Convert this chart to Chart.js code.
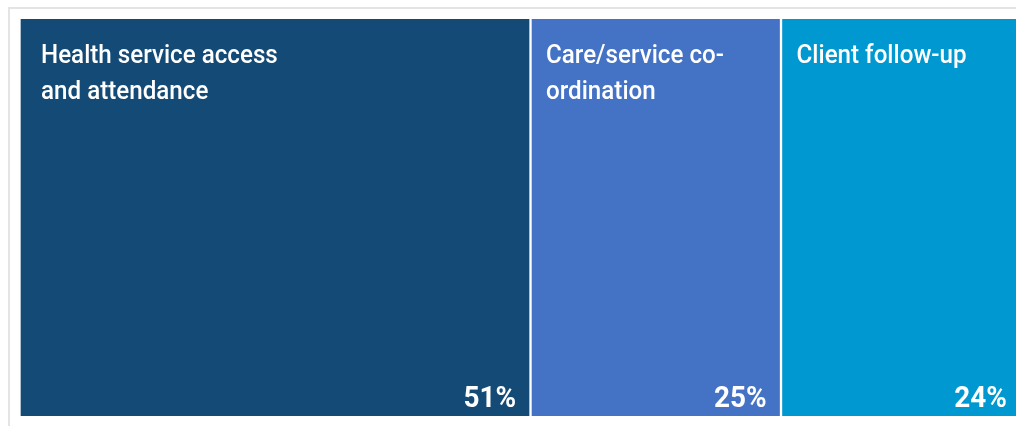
<!DOCTYPE html>
<html>
<head>
<meta charset="utf-8">
<script src="https://cdn.jsdelivr.net/npm/chart.js@4.4.0/dist/chart.umd.min.js"></script>
<style>
  html, body { margin: 0; padding: 0; background: #fff; overflow: hidden; }
  #wrap { position: relative; width: 1016px; height: 426px; overflow: hidden; }
  #frame { position: absolute; left: 8px; top: 7px; width: 1100px; height: 500px;
           border-left: 2px solid #e4e4e4; border-top: 2px solid #e4e4e4; }
  #chart { position: absolute; left: 0; top: 0; }
</style>
</head>
<body>
<div id="wrap">
  <div id="frame"></div>
  <canvas id="chart" width="1024" height="426"></canvas>
</div>
<script>
var categories = [
    ['Health service access', 'and attendance'],
    ['Care/service co-', 'ordination'],
    ['Client follow-up']
];
var values = [51, 25, 24];
var colors = ['#134A76', '#4472C4', '#0098D0'];

var FONT = 'Roboto, "Liberation Sans", sans-serif';

function drawText(ctx, text, x, y, font, align, sx) {
    ctx.save();
    ctx.font = font;
    ctx.textAlign = align;
    ctx.textBaseline = 'alphabetic';
    ctx.translate(x, y);
    ctx.scale(sx, 1); // squeeze to look like a condensed face
    ctx.fillText(text, 0, 0);
    ctx.restore();
}

var tileLabels = {
    id: 'tileLabels',
    afterDatasetsDraw: function(chart) {
        var ctx = chart.ctx;
        ctx.fillStyle = '#ffffff';
        chart.data.datasets.forEach(function(ds, i) {
            var el = chart.getDatasetMeta(i).data[0];
            var p = el.getProps(['x', 'y', 'base', 'height'], true);
            var left = Math.min(p.base, p.x) + 1.5;
            var right = Math.max(p.base, p.x) - 1.5;
            var top = p.y - p.height / 2;
            var bottom = p.y + p.height / 2;
            var pad = i === 0 ? 20 : 14;
            categories[i].forEach(function(line, k) {
                drawText(ctx, line, left + pad, top + 44 + k * 36, '500 26px ' + FONT, 'left', 0.93);
            });
            drawText(ctx, values[i] + '%', right - 13, bottom - 9, 'bold 30px ' + FONT, 'right', 0.93);
        });
    }
};

var config = {
    type: 'bar',
    data: {
        labels: ['Share'],
        datasets: categories.map(function(c, i) {
            return {
                label: c.join(' '),
                data: [values[i]],
                backgroundColor: colors[i],
                borderColor: '#ffffff',
                borderWidth: { left: 1.5, right: 1.5, top: 0, bottom: 0 },
                borderSkipped: false,
                barPercentage: 1,
                categoryPercentage: 1
            };
        })
    },
    options: {
        indexAxis: 'y',
        responsive: false,
        animation: false,
        layout: { padding: { left: 19.5, top: 19, right: 2.5, bottom: 10 } },
        scales: {
            x: { stacked: true, min: 0, max: 100, display: false },
            y: { stacked: true, display: false }
        },
        plugins: {
            legend: { display: false },
            tooltip: { enabled: false }
        }
    },
    plugins: [tileLabels]
};

window.onload = function() {
    var ctx = document.getElementById('chart').getContext('2d');
    window.myTreemap = new Chart(ctx, config);
};
</script>
</body>
</html>
